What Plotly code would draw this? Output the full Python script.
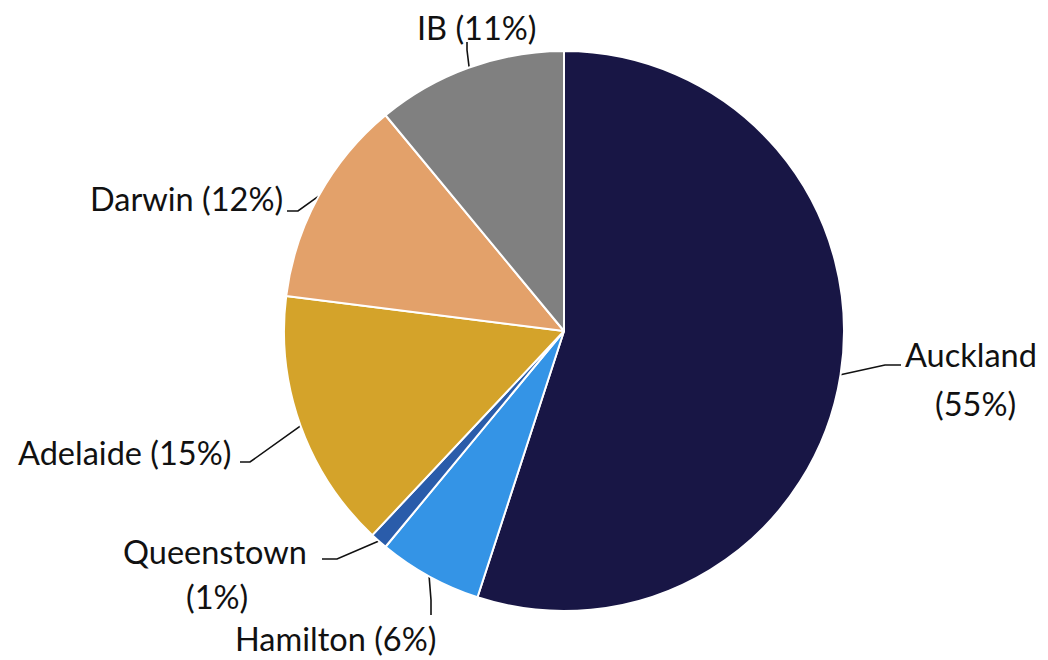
import math
import plotly.graph_objects as go

# ---- data ----
labels = ["Auckland", "Hamilton", "Queenstown", "Adelaide", "Darwin", "IB"]
values = [55, 6, 1, 15, 12, 11]
colors = ["#181645", "#3494e6", "#2a5caa", "#d4a32a", "#e3a16a", "#808080"]

# ---- layout constants (pixels) ----
W, H = 1048, 660
CX, CY, R = 564, 331, 280
FONT = "Lato"
FS = 32.5

# label layout: (text lines [(text, x, y, anchor)], elbow point, end point)
label_layout = {
    "Auckland": dict(lines=[("Auckland", 971, 354, "center"), ("(55%)", 975, 403, "center")],
                     elbow=(885, 365), end=(901, 365)),
    "Hamilton": dict(lines=[("Hamilton (6%)", 335, 638, "center")],
                     elbow=(431, 600), end=(431, 615)),
    "Queenstown": dict(lines=[("Queenstown", 215, 551, "center"), ("(1%)", 217, 596, "center")],
                       elbow=(337, 559), end=(322, 559)),
    "Adelaide": dict(lines=[("Adelaide (15%)", 124, 452, "center")],
                     elbow=(250, 462), end=(240, 462)),
    "Darwin": dict(lines=[("Darwin (12%)", 186, 198, "center")],
                   elbow=(298, 211), end=(287, 211)),
    "IB": dict(lines=[("IB (11%)", 477, 27, "center")],
               elbow=(467, 50), end=(467, 42)),
}

fig = go.Figure()
fig.add_trace(go.Pie(
    labels=labels, values=values, sort=False, direction="clockwise", rotation=0,
    marker=dict(colors=colors, line=dict(color="white", width=2)),
    textinfo="none", hoverinfo="label+percent", showlegend=False,
    domain=dict(x=[(CX - R) / W, (CX + R) / W], y=[(H - CY - R) / H, (H - CY + R) / H]),
))

total = sum(values)
cum = 0
annotations = []
for lab, v in zip(labels, values):
    mid = (cum + v / 2) / total * 2 * math.pi
    cum += v
    sx = CX + R * math.sin(mid)
    sy = CY - R * math.cos(mid)
    L = label_layout[lab]
    xs = [sx, L["elbow"][0], L["end"][0]]
    ys = [sy, L["elbow"][1], L["end"][1]]
    fig.add_trace(go.Scatter(x=xs, y=ys, mode="lines", line=dict(color="#111111", width=1.6),
                             hoverinfo="skip", showlegend=False))
    for txt, tx, ty, anc in L["lines"]:
        annotations.append(dict(x=tx, y=ty, xref="x", yref="y", text=txt, showarrow=False,
                                xanchor=anc, yanchor="middle",
                                font=dict(family=FONT, size=FS, color="#111111")))

fig.update_layout(
    width=W, height=H, margin=dict(l=0, r=0, t=0, b=0),
    paper_bgcolor="white", plot_bgcolor="rgba(0,0,0,0)",
    xaxis=dict(range=[0, W], visible=False, fixedrange=True),
    yaxis=dict(range=[H, 0], visible=False, fixedrange=True),
    annotations=annotations,
)

fig.write_html("out.html")
